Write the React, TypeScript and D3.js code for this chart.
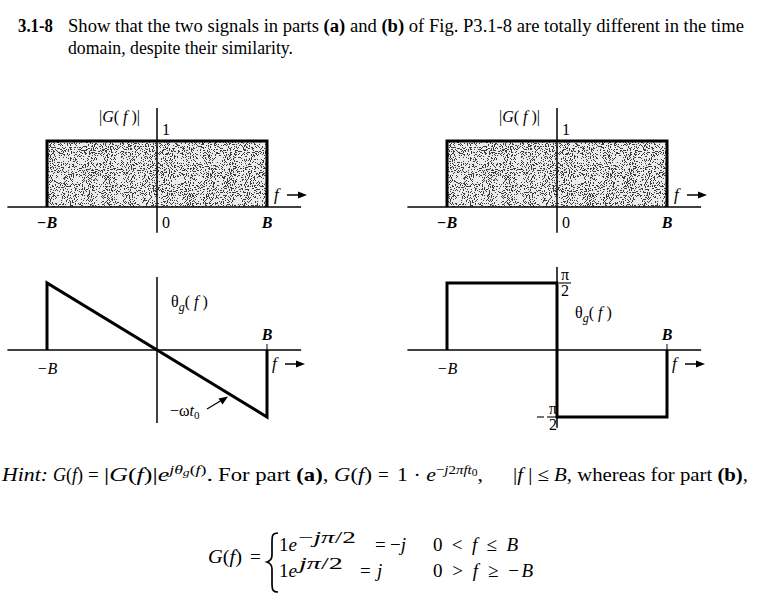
import * as d3 from 'd3';

// band edges and levels, in units of B (frequency) and of the peak value
const bandEdges = [-1, 1];
const tickLabels = ['\u2212B', '0', 'B'];
const magnitude = [
	{ f: -1, v: 0 }, { f: -1, v: 1 }, { f: 1, v: 1 }, { f: 1, v: 0 },
];
const phaseA = [
	{ f: -1, v: 0 }, { f: -1, v: 1 }, { f: 1, v: -1 }, { f: 1, v: 0 },
];
const phaseB = [
	{ f: -1, v: 0 }, { f: -1, v: 1 }, { f: 0, v: 1 }, { f: 0, v: -1 }, { f: 1, v: -1 }, { f: 1, v: 0 },
];
const hAxisExtent = [-1.36, 1.31];
const vAxisTop = [-0.39, 1.5];
const vAxisPhaseA = [-1.09, 1.09];
const vAxisPhaseB = [-1.16, 1.24];

const serif = '"Liberation Serif", "Times New Roman", serif';

const x = d3.scaleLinear().domain([-1, 1]).range([47, 267]);
const yMag = d3.scaleLinear().domain([0, 1]).range([207, 141]);
const yPh = d3.scaleLinear().domain([-1, 1]).range([417, 283]);

type Pt = { f: number; v: number };

const FArrow = ({ tx, ty }: { tx: number; ty: number }) => (
	<g>
		<text x={tx} y={ty + 5} fontStyle="italic" fontSize={17}>f</text>
		<line x1={tx + 13} y1={ty} x2={tx + 27} y2={ty} stroke="#000" strokeWidth={1.5} />
		<path d={`M${tx + 33},${ty} L${tx + 24},${ty - 3.5} L${tx + 24},${ty + 3.5} Z`} fill="#000" />
	</g>
);

const MagPanel = ({ dx }: { dx: number }) => {
	const line = d3.line<Pt>().x(d => x(d.f)).y(d => yMag(d.v));
	const w = x(bandEdges[1]) - x(bandEdges[0]);
	const h = yMag(0) - yMag(1);
	return (
		<g transform={`translate(${dx},0)`}>
			<rect x={x(bandEdges[0])} y={yMag(1)} width={w} height={h} fill="#fff" filter="url(#stipple)" />
			<line x1={x(hAxisExtent[0])} x2={x(hAxisExtent[1])} y1={yMag(0)} y2={yMag(0)} stroke="#000" strokeWidth={1.5} />
			<line x1={x(0)} x2={x(0)} y1={yMag(vAxisTop[0])} y2={yMag(vAxisTop[1])} stroke="#000" strokeWidth={1.5} />
			<path d={line(magnitude) ?? ''} fill="none" stroke="#000" strokeWidth={3} />
			<text x={x(0) - 17} y={122} fontSize={16} textAnchor="end">
				|<tspan fontStyle="italic">G</tspan>( <tspan fontStyle="italic">f</tspan> )|
			</text>
			<text x={x(0) + 5} y={yMag(1) - 6} fontSize={16}>1</text>
			<text x={x(-1)} y={228} fontSize={16} fontStyle="italic" fontWeight="bold" textAnchor="middle">{tickLabels[0]}</text>
			<text x={x(0) + 5} y={228} fontSize={16}>{tickLabels[1]}</text>
			<text x={x(1)} y={228} fontSize={16} fontStyle="italic" fontWeight="bold" textAnchor="middle">{tickLabels[2]}</text>
			<FArrow tx={x(1) + 7} ty={195} />
		</g>
	);
};

const PhasePanel = ({ dx, data, vExt, children }: { dx: number; data: Pt[]; vExt: number[]; children?: any }) => {
	const line = d3.line<Pt>().x(d => x(d.f)).y(d => yPh(d.v));
	return (
		<g transform={`translate(${dx},0)`}>
			<line x1={x(hAxisExtent[0])} x2={x(hAxisExtent[1])} y1={yPh(0)} y2={yPh(0)} stroke="#000" strokeWidth={1.5} />
			<line x1={x(0)} x2={x(0)} y1={yPh(vExt[0])} y2={yPh(vExt[1])} stroke="#000" strokeWidth={1.5} />
			<line x1={x(1)} x2={x(1)} y1={yPh(0)} y2={yPh(0) - 6} stroke="#000" strokeWidth={1} />
			<path d={line(data) ?? ''} fill="none" stroke="#000" strokeWidth={3} strokeLinejoin="miter" />
			<text x={x(-1)} y={374} fontSize={16} fontStyle="italic" textAnchor="middle">{tickLabels[0]}</text>
			<text x={x(1)} y={340} fontSize={16} fontStyle="italic" fontWeight="bold" textAnchor="middle">{tickLabels[2]}</text>
			<FArrow tx={x(1) + 5} ty={364} />
			{children}
		</g>
	);
};

const Theta = ({ tx, ty }: { tx: number; ty: number }) => (
	<text x={tx} y={ty} fontSize={16}>
		θ<tspan fontStyle="italic" fontSize={12} dy={4}>g</tspan><tspan dy={-4}>(</tspan>
		<tspan fontStyle="italic"> f </tspan>)
	</text>
);

const Frac = ({ cx, ty, neg }: { cx: number; ty: number; neg?: boolean }) => (
	<g fontSize={16}>
		{neg && <line x1={cx - 16} x2={cx - 9} y1={ty} y2={ty} stroke="#000" strokeWidth={1.1} />}
		<text x={cx} y={ty - 3} textAnchor="middle">π</text>
		<line x1={cx - 6} x2={cx + 6} y1={ty} y2={ty} stroke="#000" strokeWidth={1.1} />
		<text x={cx} y={ty + 13} textAnchor="middle">2</text>
	</g>
);

// a piece of text placed at an x and fitted to the width it has in the reference
const Seg = ({ x0, w, y, children, italic, adj = 'spacingAndGlyphs', size }:
	{ x0: number; w?: number; y: number; children: any; italic?: boolean; adj?: string; size?: number }) => (
	<text x={x0} y={y} textLength={w} lengthAdjust={w ? adj : undefined} fontStyle={italic ? 'italic' : undefined} fontSize={size}>
		{children}
	</text>
);

export default function App() {
	return (
		<svg width={770} height={601} style={{ position: 'absolute', left: 0, top: 0, background: '#fff', fontFamily: serif }}>
			<defs>
				<filter id="stipple" x="0" y="0" width="100%" height="100%">
					<feTurbulence type="fractalNoise" baseFrequency="0.95" numOctaves="2" seed="4" result="noise" />
					<feColorMatrix in="noise" type="matrix"
						values="0 0 0 0 0  0 0 0 0 0  0 0 0 0 0  4 0 0 0 -1.5" result="a" />
					<feComponentTransfer in="a" result="dots">
						<feFuncA type="discrete" tableValues="1 0 0 0 0" />
					</feComponentTransfer>
					<feFlood floodColor="#3a3a3a" result="ink" />
					<feComposite in="ink" in2="dots" operator="in" result="inked" />
					<feFlood floodColor="#ebebeb" result="paper" />
					<feMerge>
						<feMergeNode in="paper" />
						<feMergeNode in="inked" />
					</feMerge>
				</filter>
			</defs>

			<text x={18} y={32} fontSize={18} fontWeight="bold" textLength={35} lengthAdjust="spacingAndGlyphs">3.1-8</text>
			<text x={68} y={32} fontSize={18} textLength={676} lengthAdjust="spacingAndGlyphs">
				Show that the two signals in parts <tspan fontWeight="bold">(a)</tspan> and <tspan fontWeight="bold">(b)</tspan> of Fig. P3.1-8 are totally different in the time
			</text>
			<text x={68} y={54} fontSize={18} textLength={225} lengthAdjust="spacingAndGlyphs">domain, despite their similarity.</text>

			<MagPanel dx={0} />
			<MagPanel dx={400} />

			<PhasePanel dx={0} data={phaseA} vExt={vAxisPhaseA}>
				<Theta tx={171} ty={307} />
				<text x={170} y={416} fontSize={16}>−ω<tspan fontStyle="italic">t</tspan><tspan fontSize={11} dy={3}>0</tspan></text>
				<line x1={207} y1={409} x2={222} y2={400} stroke="#000" strokeWidth={1.2} />
				<path d="M228,396.5 L218.5,398.5 L222.5,404.5 Z" fill="#000" />
			</PhasePanel>
			<PhasePanel dx={400} data={phaseB} vExt={vAxisPhaseB}>
				<Theta tx={175} ty={318} />
				<Frac cx={165} ty={yPh(1)} />
				<Frac cx={153} ty={yPh(-1)} neg />
			</PhasePanel>

			<g fontSize={19}>
				<Seg x0={2} w={46} y={481} italic>Hint:</Seg>
				<Seg x0={53} w={30} y={481}><tspan fontStyle="italic">G</tspan>(<tspan fontStyle="italic">f</tspan>)</Seg>
				<Seg x0={88} y={481}>=</Seg>
				<Seg x0={104} w={109} y={481}>
					|<tspan fontStyle="italic">G</tspan>(<tspan fontStyle="italic">f</tspan>)|<tspan fontStyle="italic">e</tspan><tspan fontSize={13} dy={-7} fontStyle="italic">jθ</tspan><tspan fontSize={10} dy={2} fontStyle="italic">g</tspan><tspan fontSize={13} dy={-2}>(</tspan><tspan fontSize={13} fontStyle="italic">f</tspan><tspan fontSize={13}>)</tspan><tspan dy={7}>.</tspan>
				</Seg>
				<Seg x0={218} w={154} y={481}>
					For part <tspan fontWeight="bold">(a)</tspan>, <tspan fontStyle="italic">G</tspan>(<tspan fontStyle="italic">f</tspan>)
				</Seg>
				<Seg x0={378} y={481}>=</Seg>
				<Seg x0={397} w={86} y={481}>
					1 · <tspan fontStyle="italic">e</tspan><tspan fontSize={13} dy={-7}>−</tspan><tspan fontSize={13} fontStyle="italic">j</tspan><tspan fontSize={13}>2</tspan><tspan fontSize={13} fontStyle="italic">πft</tspan><tspan fontSize={10} dy={2}>0</tspan><tspan dy={5}>,</tspan>
				</Seg>
				<Seg x0={513} w={235} y={481}>
					|<tspan fontStyle="italic">f</tspan> | ≤ <tspan fontStyle="italic">B</tspan>, whereas for part <tspan fontWeight="bold">(b)</tspan>,
				</Seg>

				<Seg x0={208} w={34} y={563}><tspan fontStyle="italic">G</tspan>(<tspan fontStyle="italic">f</tspan>)</Seg>
				<Seg x0={250} y={563}>=</Seg>
				<path d="M278,533 C272,533 272,536 272,543 L272,555 C272,559 270,561 267,562 C270,563 272,565 272,569 L272,582 C272,589 272,592 278,592"
					fill="none" stroke="#000" strokeWidth={1.7} />
				<Seg x0={279} y={551}>1<tspan fontStyle="italic">e</tspan></Seg>
				<Seg x0={298} w={58} y={543} size={17}>−<tspan fontStyle="italic">jπ</tspan>/2</Seg>
				<Seg x0={375} y={551}>=</Seg>
				<Seg x0={390} y={551}>−<tspan fontStyle="italic">j</tspan></Seg>
				<Seg x0={433} w={85} y={551} adj="spacing">
					0 &lt; <tspan fontStyle="italic">f</tspan> ≤ <tspan fontStyle="italic">B</tspan>
				</Seg>
				<Seg x0={279} y={577}>1<tspan fontStyle="italic">e</tspan></Seg>
				<Seg x0={299} w={44} y={569} size={17}><tspan fontStyle="italic">jπ</tspan>/2</Seg>
				<Seg x0={360} y={577}>=</Seg>
				<Seg x0={377} y={577} italic>j</Seg>
				<Seg x0={433} w={100} y={577} adj="spacing">
					0 &gt; <tspan fontStyle="italic">f</tspan> ≥ −<tspan fontStyle="italic">B</tspan>
				</Seg>
			</g>
		</svg>
	);
}
